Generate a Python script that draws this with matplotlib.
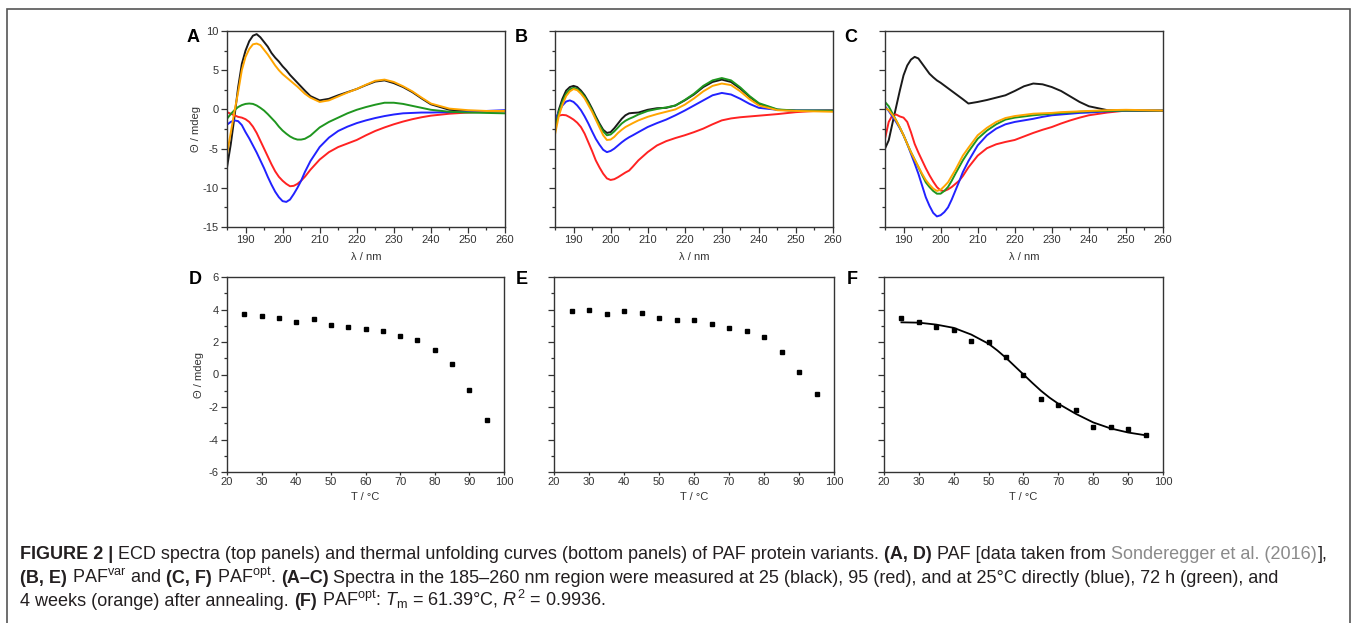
import matplotlib
matplotlib.use("Agg")
import matplotlib.pyplot as plt
from matplotlib.ticker import MultipleLocator, NullFormatter
from matplotlib.patches import Rectangle

plt.rcParams['font.family'] = ['Liberation Sans', 'DejaVu Sans']
plt.rcParams['mathtext.fontset'] = 'custom'
plt.rcParams['mathtext.rm'] = 'Liberation Sans'
plt.rcParams['mathtext.it'] = 'Liberation Sans:italic'
plt.rcParams['mathtext.bf'] = 'Liberation Sans:bold'
plt.rcParams['axes.unicode_minus'] = False

# ---- data: ECD spectra (wavelength grid shared by all curves)
wl = [185, 186, 187, 188, 189, 190, 191, 192, 193, 194, 195, 196, 197, 198, 199,
      200, 201, 202, 203, 204, 205, 206, 207.5, 210, 212.5, 215, 217.5, 220,
      222.5, 225, 227.5, 230, 232.5, 235, 237.5, 240, 245, 250, 255, 260]

# panel A - PAF
a_black = [-7.4, -4.5, -1.0, 2.8, 5.8, 7.5, 8.7, 9.4, 9.6, 9.2, 8.6, 8.0, 7.2, 6.6, 6.1,
           5.5, 5.0, 4.4, 3.9, 3.4, 2.9, 2.4, 1.7, 1.15, 1.35, 1.8, 2.2, 2.6,
           3.1, 3.55, 3.7, 3.35, 2.85, 2.2, 1.4, 0.65, -0.05, -0.2, -0.2, -0.2]
a_red = [-0.35, -0.55, -0.75, -0.95, -1.05, -1.25, -1.6, -2.2, -3.0, -4.0, -5.0, -6.0, -7.0, -7.9, -8.6,
         -9.1, -9.5, -9.8, -9.75, -9.5, -9.1, -8.6, -7.7, -6.4, -5.45, -4.8, -4.35, -3.9,
         -3.3, -2.75, -2.3, -1.9, -1.55, -1.25, -1.0, -0.8, -0.55, -0.4, -0.3, -0.25]
a_blue = [-1.95, -1.6, -1.4, -1.5, -2.0, -2.9, -3.7, -4.6, -5.5, -6.5, -7.5, -8.6, -9.6, -10.5, -11.2,
          -11.7, -11.8, -11.5, -10.8, -10.0, -9.1, -8.0, -6.6, -4.8, -3.6, -2.75, -2.2, -1.75,
          -1.4, -1.1, -0.85, -0.65, -0.5, -0.45, -0.4, -0.4, -0.35, -0.3, -0.2, -0.1]
a_green = [-1.2, -0.6, -0.1, 0.3, 0.55, 0.7, 0.75, 0.7, 0.5, 0.2, -0.15, -0.6, -1.1, -1.6, -2.2,
           -2.7, -3.1, -3.45, -3.7, -3.85, -3.85, -3.75, -3.35, -2.3, -1.6, -1.05, -0.5, -0.05,
           0.3, 0.6, 0.85, 0.85, 0.7, 0.45, 0.2, -0.05, -0.3, -0.4, -0.45, -0.5]
a_orange = [-5.7, -3.0, -0.3, 2.2, 5.0, 6.7, 7.7, 8.3, 8.4, 8.2, 7.6, 7.0, 6.3, 5.6, 5.0,
            4.5, 4.1, 3.7, 3.3, 2.9, 2.45, 2.0, 1.5, 0.95, 1.15, 1.65, 2.15, 2.6,
            3.15, 3.65, 3.8, 3.5, 2.95, 2.3, 1.5, 0.75, 0.1, -0.1, -0.2, -0.2]

# panel B - PAFvar
b_black = [-2.25, -0.1, 1.35, 2.4, 2.85, 3.0, 2.85, 2.4, 1.8, 1.0, 0.1, -0.9, -1.8, -2.6, -3.0,
           -2.9, -2.4, -1.8, -1.2, -0.75, -0.5, -0.45, -0.4, -0.05, 0.15, 0.2, 0.5, 1.15,
           1.9, 2.85, 3.5, 3.8, 3.5, 2.65, 1.6, 0.7, -0.05, -0.15, -0.15, -0.15]
b_red = [-1.0, -0.8, -0.7, -0.75, -1.0, -1.3, -1.7, -2.25, -3.1, -4.2, -5.3, -6.5, -7.4, -8.2, -8.8,
         -9.0, -8.9, -8.65, -8.35, -8.05, -7.8, -7.3, -6.5, -5.45, -4.6, -4.05, -3.65, -3.3,
         -2.9, -2.45, -1.9, -1.4, -1.15, -1.0, -0.9, -0.8, -0.6, -0.35, -0.2, -0.15]
b_blue = [-1.4, -0.35, 0.5, 1.0, 1.15, 0.95, 0.5, -0.1, -0.9, -1.8, -2.8, -3.75, -4.5, -5.15, -5.45,
          -5.3, -5.0, -4.6, -4.2, -3.85, -3.55, -3.3, -2.9, -2.25, -1.75, -1.3, -0.75, -0.15,
          0.5, 1.15, 1.8, 2.1, 1.9, 1.35, 0.7, 0.2, -0.05, -0.15, -0.15, -0.15]
b_green = [-2.6, -0.4, 1.0, 2.0, 2.55, 2.75, 2.6, 2.2, 1.6, 0.8, -0.1, -1.1, -2.0, -2.8, -3.3,
           -3.2, -2.8, -2.3, -1.8, -1.45, -1.2, -1.0, -0.65, -0.2, 0.05, 0.25, 0.5, 1.2,
           2.0, 3.0, 3.7, 4.0, 3.7, 2.8, 1.7, 0.8, 0.0, -0.15, -0.15, -0.15]
b_orange = [-3.2, -0.9, 0.6, 1.7, 2.3, 2.6, 2.45, 2.0, 1.4, 0.55, -0.3, -1.3, -2.3, -3.3, -3.9,
            -3.85, -3.5, -3.0, -2.6, -2.25, -2.0, -1.75, -1.4, -0.95, -0.6, -0.3, 0.0, 0.6,
            1.4, 2.3, 3.0, 3.3, 3.1, 2.3, 1.3, 0.5, -0.1, -0.2, -0.25, -0.3]

# panel C - PAFopt
c_black = [-5.0, -3.95, -1.8, 0.3, 2.4, 4.35, 5.6, 6.35, 6.7, 6.5, 5.85, 5.2, 4.55, 4.1, 3.7,
           3.4, 3.05, 2.7, 2.35, 2.0, 1.65, 1.3, 0.75, 0.95, 1.2, 1.5, 1.8, 2.35,
           2.95, 3.3, 3.2, 2.85, 2.35, 1.65, 0.95, 0.4, -0.1, -0.15, -0.2, -0.2]
c_red = [-3.75, -1.6, -0.75, -0.65, -0.9, -1.05, -1.6, -2.9, -4.4, -5.5, -6.5, -7.5, -8.4, -9.2, -9.9,
         -10.35, -10.4, -10.2, -9.9, -9.5, -9.1, -8.5, -7.4, -5.9, -4.95, -4.45, -4.15, -3.9,
         -3.45, -3.0, -2.6, -2.25, -1.8, -1.4, -1.05, -0.75, -0.4, -0.15, -0.15, -0.15]
c_blue = [0.4, -0.2, -0.9, -1.6, -2.4, -3.3, -4.4, -5.65, -6.9, -8.2, -9.7, -11.2, -12.3, -13.2, -13.65,
          -13.5, -13.1, -12.5, -11.5, -10.35, -9.2, -8.0, -6.6, -4.6, -3.3, -2.45, -1.9, -1.6,
          -1.4, -1.2, -0.95, -0.75, -0.65, -0.55, -0.45, -0.4, -0.25, -0.15, -0.15, -0.15]
c_green = [0.95, 0.4, -0.5, -1.4, -2.3, -3.3, -4.4, -5.45, -6.4, -7.35, -8.35, -9.3, -9.9, -10.4, -10.75,
           -10.75, -10.4, -9.9, -9.1, -8.2, -7.35, -6.5, -5.4, -3.75, -2.7, -1.9, -1.3, -1.05,
           -0.9, -0.75, -0.65, -0.55, -0.45, -0.4, -0.3, -0.25, -0.2, -0.15, -0.15, -0.15]
c_orange = [0.2, -0.1, -0.7, -1.4, -2.3, -3.3, -4.4, -5.45, -6.4, -7.3, -8.2, -9.0, -9.6, -10.1, -10.4,
            -10.25, -9.8, -9.3, -8.5, -7.7, -6.8, -5.9, -4.9, -3.3, -2.35, -1.6, -1.1, -0.85,
            -0.7, -0.55, -0.5, -0.45, -0.35, -0.3, -0.25, -0.2, -0.1, -0.05, -0.1, -0.15]

# ---- data: thermal unfolding
temp = [25, 30, 35, 40, 45, 50, 55, 60, 65, 70, 75, 80, 85, 90, 95]
d_theta = [3.75, 3.58, 3.48, 3.24, 3.42, 3.07, 2.91, 2.83, 2.68, 2.36, 2.13, 1.52, 0.64, -0.96, -2.77]
e_theta = [3.89, 3.97, 3.71, 3.89, 3.77, 3.50, 3.34, 3.34, 3.10, 2.89, 2.67, 2.28, 1.37, 0.18, -1.17]
f_theta = [3.48, 3.21, 2.95, 2.72, 2.09, 1.99, 1.05, 0.0, -1.50, -1.90, -2.19, -3.24, -3.24, -3.38, -3.73]
# sigmoid fit for F
fit_t = [25, 30, 35, 40, 45, 50, 52.5, 55, 57.5, 60, 62.5, 65, 67.5, 70, 75, 80, 85, 90, 95]
fit_theta = [3.21, 3.19, 3.07, 2.87, 2.46, 1.89, 1.48, 1.02, 0.51, 0.0, -0.51, -1.0, -1.43, -1.8,
             -2.42, -2.95, -3.32, -3.57, -3.74]

colors = {'black': '#1a1a1a', 'red': '#ff2222', 'blue': '#2222ff',
          'green': '#1f961f', 'orange': '#ffa500'}

W, H = 1357, 623
fig = plt.figure(figsize=(W / 100, H / 100), dpi=100)


def ax_at(l, t, r, b):
    return fig.add_axes([l / W, 1 - b / H, (r - l) / W, (b - t) / H])


def style(ax):
    for s in ax.spines.values():
        s.set_linewidth(1.0)
        s.set_color('#333333')
    ax.tick_params(which='both', direction='out', top=False, right=False,
                   labelsize=8, colors='#333333', width=0.9)
    ax.tick_params(which='major', length=4, pad=2)
    ax.tick_params(which='minor', length=2.5)


spectra = [
    ('A', (227, 31, 505, 227), [a_black, a_red, a_blue, a_green, a_orange]),
    ('B', (555, 31, 833, 227), [b_black, b_red, b_blue, b_green, b_orange]),
    ('C', (885, 31, 1163, 227), [c_black, c_red, c_blue, c_green, c_orange]),
]
for i, (lab, box, curves) in enumerate(spectra):
    ax = ax_at(*box)
    for ys, c in zip(curves, ['black', 'red', 'blue', 'green', 'orange']):
        ax.plot(wl, ys, color=colors[c], lw=1.4)
    ax.set_xlim(185, 260)
    ax.set_ylim(-15, 10)
    ax.xaxis.set_major_locator(MultipleLocator(10))
    ax.xaxis.set_minor_locator(MultipleLocator(5))
    ax.yaxis.set_major_locator(MultipleLocator(5))
    ax.yaxis.set_minor_locator(MultipleLocator(2.5))
    style(ax)
    ax.set_xlabel('λ / nm', fontsize=8, labelpad=5, color='#333333')
    if i == 0:
        ax.set_ylabel('Θ / mdeg', fontsize=8, color='#333333')
        ax.yaxis.set_label_coords(-0.094, 0.5)
    else:
        ax.yaxis.set_major_formatter(NullFormatter())
    fig.text((box[0] - 34) / W, 1 - 37 / H, lab, fontsize=13, fontweight='bold',
             ha='center', va='center')

melts = [
    ('D', (227, 277, 504, 472), d_theta),
    ('E', (554, 277, 834, 472), e_theta),
    ('F', (884, 277, 1163, 472), f_theta),
]
for i, (lab, box, vals) in enumerate(melts):
    ax = ax_at(*box)
    ax.plot(temp, vals, 's', color='black', markersize=3.2)
    if lab == 'F':
        ax.plot(fit_t, fit_theta, color='black', lw=1.3)
    ax.set_xlim(20, 100)
    ax.set_ylim(-6, 6)
    ax.xaxis.set_major_locator(MultipleLocator(10))
    ax.yaxis.set_major_locator(MultipleLocator(2))
    ax.yaxis.set_minor_locator(MultipleLocator(1))
    style(ax)
    ax.tick_params(axis='x', which='major', length=2.5, pad=1)
    ax.set_xlabel('T / °C', fontsize=8, labelpad=3.5, color='#333333')
    if i == 0:
        ax.set_ylabel('Θ / mdeg', fontsize=8, color='#333333')
        ax.yaxis.set_label_coords(-0.083, 0.5)
    else:
        ax.yaxis.set_major_formatter(NullFormatter())
    fig.text((box[0] - 32) / W, 1 - 280 / H, lab, fontsize=13, fontweight='bold',
             ha='center', va='center')

# frame around the figure
fig.patches.append(Rectangle((7 / W, -0.05), (1350 - 7) / W, 1 - 9 / H + 0.05,
                             transform=fig.transFigure, fill=False,
                             edgecolor='#555555', lw=1.2))

# caption
cap_col = '#231f20'
cap_size = 13
sp = 5.1
renderer = fig.canvas.get_renderer()


def caption_line(x, y, pieces):
    for txt, weight, color, gap in pieces:
        x += gap
        t = fig.text(x / W, 1 - y / H, txt, fontsize=cap_size, fontweight=weight,
                     color=color, ha='left', va='baseline')
        x += t.get_window_extent(renderer).width


caption_line(20, 559, [
    ('FIGURE 2 |', 'bold', cap_col, 0),
    ('ECD spectra (top panels) and thermal unfolding curves (bottom panels) of PAF protein variants.',
     'normal', cap_col, sp),
    ('(A, D)', 'bold', cap_col, sp),
    ('PAF [data taken from', 'normal', cap_col, sp),
    ('Sonderegger et al. (2016)', 'normal', '#8a8a8a', sp),
    ('],', 'normal', cap_col, 1),
])
caption_line(20, 583, [
    ('(B, E)', 'bold', cap_col, 0),
    (r'PAF$^{\mathrm{var}}$ and', 'normal', cap_col, sp),
    ('(C, F)', 'bold', cap_col, sp),
    (r'PAF$^{\mathrm{opt}}$.', 'normal', cap_col, sp),
    ('(A–C)', 'bold', cap_col, sp),
    ('Spectra in the 185–260 nm region were measured at 25 (black), 95 (red), and at 25°C '
     'directly (blue), 72 h (green), and', 'normal', cap_col, sp),
])
caption_line(20, 606, [
    ('4 weeks (orange) after annealing.', 'normal', cap_col, 0),
    ('(F)', 'bold', cap_col, sp),
    (r'PAF$^{\mathrm{opt}}$: $T_{\mathrm{m}}$ = 61.39°C, $R^{2}$ = 0.9936.', 'normal', cap_col, sp),
])

fig.savefig('out.png', dpi=100)
